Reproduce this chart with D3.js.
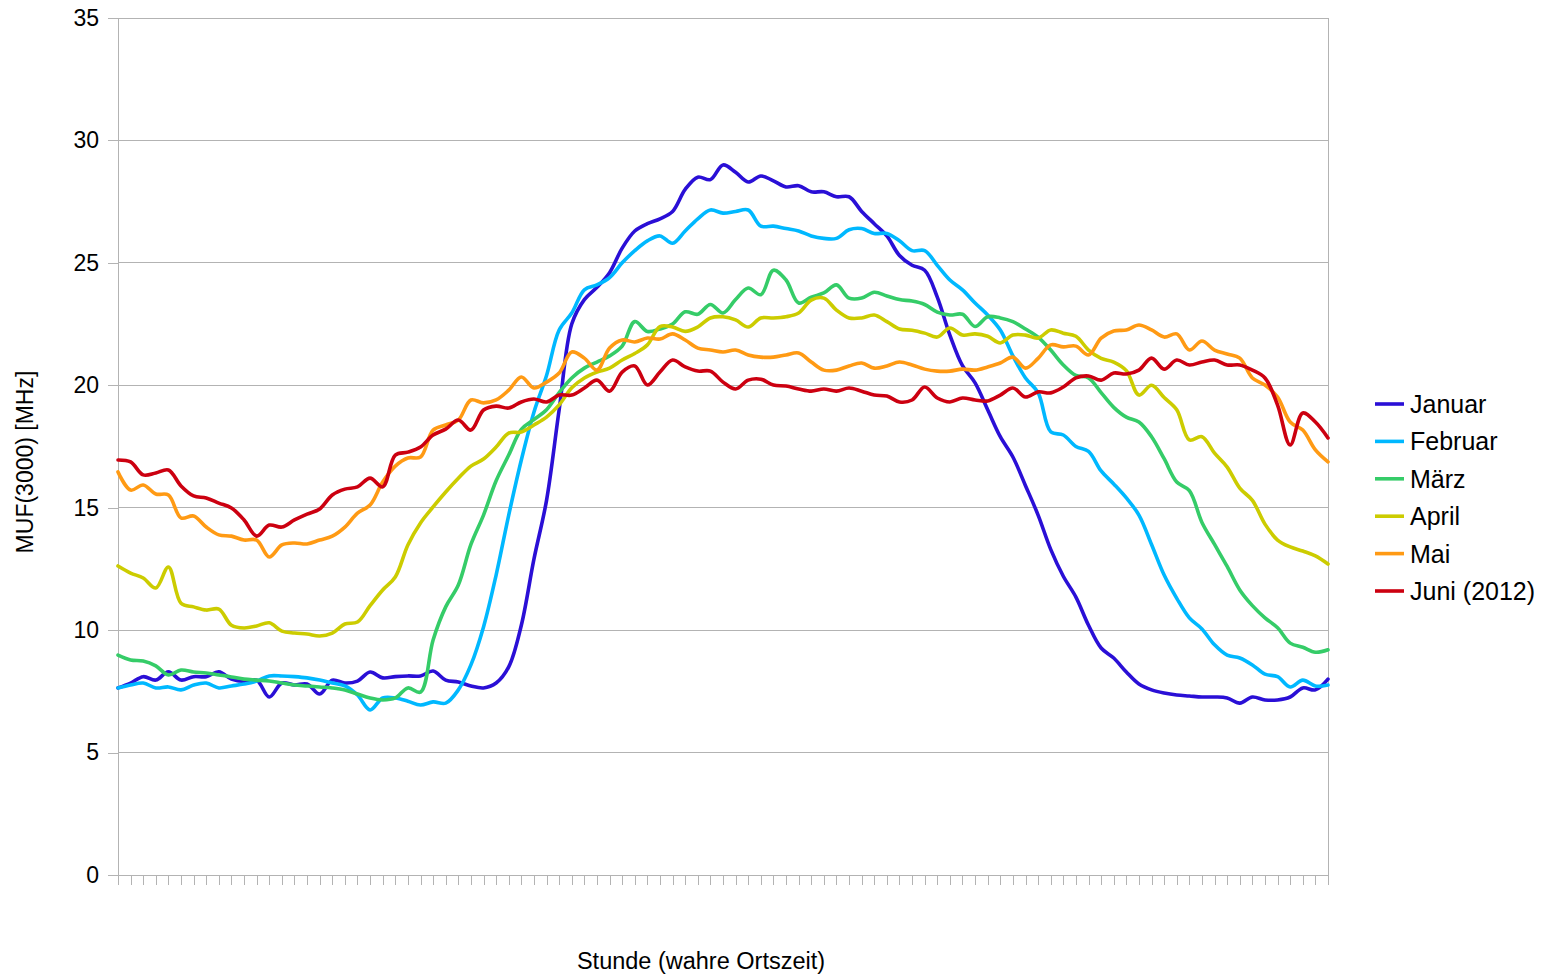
<!DOCTYPE html>
<html>
<head>
<meta charset="utf-8">
<script src="https://cdn.jsdelivr.net/npm/d3@7"></script>
<style>
  html, body { margin: 0; padding: 0; background: #ffffff; }
  svg { display: block; font-family: "Liberation Sans", Arial, sans-serif; }
</style>
</head>
<body>
<svg id="chart" width="1545" height="980"></svg>
<script>
// MUF(3000) over the day, one sample every 15 minutes (97 samples, 0:00–24:00)
const months = ["Januar", "Februar", "März", "April", "Mai", "Juni (2012)"];
const colors = ["#2a0fd6", "#00b8ff", "#35cc68", "#cccc00", "#ff9a14", "#cc0010"];
const yTicks = [0, 5, 10, 15, 20, 25, 30, 35];

const januar = [7.64, 7.84, 8.1, 7.96, 8.3, 7.96, 8.1, 8.1, 8.3, 8.0,
  7.9, 7.96, 7.27, 7.84, 7.76, 7.8, 7.39, 7.96, 7.84, 7.92,
  8.29, 8.05, 8.1, 8.13, 8.13, 8.33, 7.96, 7.88, 7.72, 7.64,
  7.84, 8.5, 10.2, 12.9, 15.3, 19.0, 22.5, 23.5, 24.0, 24.6,
  25.6, 26.3, 26.6, 26.8, 27.1, 28.0, 28.5, 28.4, 29.0, 28.7,
  28.3, 28.55, 28.35, 28.1, 28.15, 27.9, 27.9, 27.7, 27.7, 27.1,
  26.6, 26.1, 25.3, 24.9, 24.7, 23.6, 22.05, 20.8, 20.1, 19.0,
  17.9, 17.07, 15.9, 14.7, 13.3, 12.2, 11.35, 10.2, 9.27, 8.86,
  8.29, 7.8, 7.56, 7.43, 7.35, 7.31, 7.27, 7.27, 7.23, 7.02,
  7.27, 7.15, 7.15, 7.27, 7.64, 7.56, 8.0];

const februar = [7.64, 7.76, 7.84, 7.64, 7.68, 7.56, 7.76, 7.84, 7.64, 7.72,
  7.8, 7.92, 8.13, 8.13, 8.1, 8.05, 7.96, 7.84, 7.72, 7.35,
  6.74, 7.23, 7.23, 7.1, 6.94, 7.07, 7.02, 7.56, 8.58, 10.13,
  12.25, 14.7, 16.95, 18.9, 20.4, 22.26, 22.95, 23.9, 24.1, 24.4,
  25.0, 25.5, 25.9, 26.1, 25.8, 26.3, 26.8, 27.16, 27.03, 27.1,
  27.16, 26.5, 26.5, 26.4, 26.3, 26.1, 26.0, 26.0, 26.35, 26.4,
  26.2, 26.2, 25.9, 25.5, 25.5, 24.9, 24.3, 23.9, 23.36, 22.87,
  22.26, 21.2, 20.3, 19.7, 18.1, 17.97, 17.5, 17.3, 16.5, 15.97,
  15.4, 14.7, 13.5, 12.25, 11.3, 10.5, 10.05, 9.4, 8.98, 8.86,
  8.58, 8.2, 8.1, 7.68, 7.96, 7.72, 7.76];

const maerz = [8.98, 8.78, 8.74, 8.54, 8.17, 8.37, 8.29, 8.25, 8.17, 8.09,
  8.0, 7.96, 7.92, 7.84, 7.76, 7.72, 7.68, 7.64, 7.56, 7.39,
  7.23, 7.15, 7.23, 7.64, 7.47, 9.6, 10.95, 11.84, 13.5, 14.7,
  16.1, 17.15, 18.2, 18.6, 19.0, 19.7, 20.3, 20.7, 20.95, 21.2,
  21.6, 22.6, 22.2, 22.3, 22.5, 23.0, 22.9, 23.3, 22.95, 23.5,
  23.97, 23.7, 24.7, 24.3, 23.36, 23.6, 23.77, 24.1, 23.56, 23.56,
  23.8, 23.65, 23.5, 23.44, 23.3, 22.99, 22.87, 22.9, 22.4, 22.8,
  22.75, 22.6, 22.3, 21.97, 21.44, 20.83, 20.4, 20.3, 19.7, 19.1,
  18.7, 18.5, 17.9, 17.0, 16.05, 15.7, 14.4, 13.5, 12.6, 11.64,
  11.0, 10.5, 10.1, 9.47, 9.3, 9.1, 9.2];

const april = [12.62, 12.33, 12.13, 11.72, 12.58, 11.1, 10.95, 10.82, 10.86, 10.2,
  10.09, 10.17, 10.3, 9.96, 9.88, 9.84, 9.76, 9.88, 10.25, 10.33,
  11.0, 11.64, 12.17, 13.48, 14.38, 15.03, 15.64, 16.2, 16.7, 16.99,
  17.48, 18.05, 18.09, 18.38, 18.7, 19.2, 19.9, 20.3, 20.54, 20.7,
  21.03, 21.3, 21.65, 22.4, 22.38, 22.2, 22.38, 22.75, 22.8, 22.67,
  22.38, 22.75, 22.75, 22.8, 22.95, 23.48, 23.56, 23.07, 22.75, 22.75,
  22.87, 22.6, 22.3, 22.25, 22.13, 21.97, 22.34, 22.05, 22.1, 22.0,
  21.73, 22.05, 22.05, 21.93, 22.26, 22.13, 22.0, 21.44, 21.1, 20.95,
  20.6, 19.6, 20.0, 19.5, 19.0, 17.77, 17.9, 17.23, 16.66, 15.8,
  15.3, 14.33, 13.68, 13.4, 13.23, 13.03, 12.7];

const mai = [16.46, 15.72, 15.93, 15.56, 15.52, 14.58, 14.66, 14.21, 13.89, 13.84,
  13.68, 13.68, 12.99, 13.48, 13.56, 13.52, 13.68, 13.84, 14.21, 14.78,
  15.11, 16.05, 16.7, 17.03, 17.07, 18.17, 18.38, 18.58, 19.4, 19.28,
  19.4, 19.8, 20.34, 19.89, 20.13, 20.5, 21.36, 21.11, 20.62, 21.52,
  21.85, 21.77, 21.93, 21.89, 22.1, 21.85, 21.52, 21.44, 21.36, 21.44,
  21.24, 21.15, 21.15, 21.24, 21.32, 20.95, 20.62, 20.62, 20.79, 20.91,
  20.7, 20.79, 20.95, 20.83, 20.66, 20.58, 20.58, 20.66, 20.62, 20.75,
  20.91, 21.15, 20.7, 21.1, 21.65, 21.57, 21.6, 21.24, 21.93, 22.22,
  22.26, 22.46, 22.26, 21.97, 22.1, 21.44, 21.81, 21.44, 21.28, 21.11,
  20.3, 20.01, 19.52, 18.5, 18.17, 17.36, 16.87];

const juni = [16.95, 16.87, 16.34, 16.42, 16.54, 15.89, 15.48, 15.4, 15.19, 14.99,
  14.5, 13.84, 14.29, 14.21, 14.5, 14.74, 14.95, 15.52, 15.76, 15.85,
  16.21, 15.85, 17.15, 17.27, 17.48, 17.97, 18.21, 18.58, 18.17, 18.99,
  19.15, 19.07, 19.32, 19.44, 19.32, 19.6, 19.6, 19.89, 20.21, 19.76,
  20.54, 20.79, 20.01, 20.54, 21.03, 20.75, 20.58, 20.58, 20.13, 19.85,
  20.21, 20.25, 20.01, 19.97, 19.85, 19.76, 19.85, 19.76, 19.89, 19.76,
  19.6, 19.56, 19.32, 19.4, 19.93, 19.48, 19.32, 19.48, 19.4, 19.36,
  19.6, 19.89, 19.52, 19.73, 19.69, 19.93, 20.3, 20.38, 20.21, 20.5,
  20.46, 20.62, 21.11, 20.66, 21.03, 20.83, 20.95, 21.03, 20.83, 20.83,
  20.62, 20.3, 19.19, 17.56, 18.87, 18.5, 17.85];

const series = [januar, februar, maerz, april, mai, juni];

const svg = d3.select("#chart");
const plotLeft = 118, plotRight = 1328, plotTop = 18, plotBottom = 875;

const x = d3.scaleLinear().domain([0, 96]).range([plotLeft, plotRight]);
const y = d3.scaleLinear().domain([0, 35]).range([plotBottom, plotTop]);

// horizontal gridlines
svg.append("g")
  .selectAll("line")
  .data(yTicks.filter(d => d > 0))
  .join("line")
  .attr("x1", plotLeft).attr("x2", plotRight)
  .attr("y1", d => y(d)).attr("y2", d => y(d))
  .attr("stroke", "#b3b3b3").attr("stroke-width", 1)
  .attr("shape-rendering", "crispEdges");

// right border of the plot area
svg.append("line")
  .attr("x1", plotRight).attr("x2", plotRight).attr("y1", plotTop).attr("y2", plotBottom)
  .attr("stroke", "#b3b3b3").attr("shape-rendering", "crispEdges");

// y axis
const yAxis = svg.append("g")
  .attr("transform", `translate(${plotLeft},0)`)
  .call(d3.axisLeft(y).tickValues(yTicks).tickSize(10).tickPadding(9).tickFormat(d3.format("d")));
yAxis.select(".domain").attr("stroke", "#b3b3b3");
yAxis.selectAll(".tick line").attr("stroke", "#b3b3b3");
yAxis.selectAll(".tick text")
  .attr("fill", "#000").attr("font-size", 23)
  .attr("font-family", "Liberation Sans, Arial, sans-serif");
yAxis.attr("shape-rendering", "crispEdges");

// x axis: one tick per 15-minute sample, no labels
const xAxis = svg.append("g")
  .attr("transform", `translate(0,${plotBottom})`)
  .call(d3.axisBottom(x).tickValues(d3.range(0, 97)).tickSize(10).tickFormat(""));
xAxis.select(".domain").attr("stroke", "#b3b3b3");
xAxis.selectAll(".tick line").attr("stroke", "#b3b3b3");
xAxis.attr("shape-rendering", "crispEdges");

// curves
const line = d3.line()
  .x((d, i) => x(i))
  .y(d => y(d))
  .curve(d3.curveCatmullRom.alpha(0.5));

svg.append("g")
  .selectAll("path")
  .data(series)
  .join("path")
  .attr("d", d => line(d))
  .attr("fill", "none")
  .attr("stroke", (d, i) => colors[i])
  .attr("stroke-width", 3.6)
  .attr("stroke-linejoin", "round")
  .attr("stroke-linecap", "round");

// axis titles
svg.append("text")
  .attr("transform", "translate(33,462) rotate(-90)")
  .attr("text-anchor", "middle")
  .attr("font-size", 23)
  .text("MUF(3000) [MHz]");

svg.append("text")
  .attr("x", 701).attr("y", 969)
  .attr("text-anchor", "middle")
  .attr("font-size", 23.5)
  .text("Stunde (wahre Ortszeit)");

// legend
const legend = svg.append("g").attr("transform", "translate(1375,404)");
const rows = legend.selectAll("g")
  .data(months)
  .join("g")
  .attr("transform", (d, i) => `translate(0,${i * 37.4})`);
rows.append("line")
  .attr("x1", 0).attr("x2", 29).attr("y1", 0).attr("y2", 0)
  .attr("stroke", (d, i) => colors[i]).attr("stroke-width", 3.6);
rows.append("text")
  .attr("x", 35).attr("y", 9)
  .attr("font-size", 25)
  .text(d => d);
</script>
</body>
</html>
